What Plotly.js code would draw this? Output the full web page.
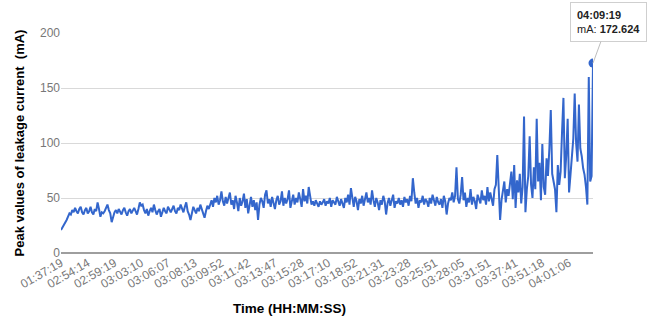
<!DOCTYPE html>
<html>
<head>
<meta charset="utf-8">
<script src="https://cdn.plot.ly/plotly-3.0.1.min.js"></script>
<style>
html,body{margin:0;padding:0;background:#fff;}
#chart{width:650px;height:317px;}
</style>
</head>
<body>
<div id="chart"></div>
<script>
// Tick labels (one every 19 samples)
const tickLabels = ["01:37:19","02:54:14","02:59:19","03:03:10","03:06:07","03:08:13","03:09:52",
  "03:11:42","03:13:47","03:15:28","03:17:10","03:18:52","03:21:31","03:23:28","03:25:51",
  "03:28:05","03:31:51","03:37:41","03:51:18","04:01:06"];
const labelStep = 19;

// Peak leakage current (mA)
const leakage = [
  21,23,25,27,30,33,36,35,39,37,41,38,36,40,42,37,35,39,41,36,
  38,42,37,35,40,38,46,40,33,37,36,38,41,44,39,36,28,33,37,39,
  36,40,38,35,39,41,37,34,38,40,36,39,41,38,35,40,46,43,44,39,
  36,40,34,38,41,37,44,39,35,38,40,33,37,41,38,36,42,39,37,40,
  43,38,36,41,39,44,40,37,42,46,38,35,30,37,42,39,36,41,38,44,
  40,35,32,38,43,40,45,48,42,50,46,52,44,48,56,47,43,51,45,49,
  55,44,48,40,52,46,38,50,43,47,54,41,49,36,45,51,42,48,39,46,
  30,44,50,47,41,53,57,45,49,42,51,46,40,48,52,44,47,56,43,50,
  45,49,57,41,48,53,44,50,46,55,49,42,58,47,52,45,60,51,44,47,
  43,48,45,42,47,44,46,49,43,47,45,50,42,48,46,44,51,47,43,49,
  45,41,50,46,53,44,59,48,42,51,47,39,49,45,52,43,48,55,46,50,
  44,57,48,42,50,46,39,48,44,52,47,35,45,50,43,48,53,41,47,45,
  50,44,48,42,51,46,49,43,52,47,68,55,45,50,41,48,46,52,44,49,
  47,42,50,45,53,48,43,51,46,44,49,41,52,47,35,45,50,48,55,46,
  52,78,49,45,53,69,48,55,42,50,46,58,44,51,47,40,53,49,45,57,
  48,52,44,60,47,55,50,43,58,62,89,52,30,48,56,65,46,58,52,61,
  74,49,80,41,66,55,72,45,60,124,37,58,70,106,62,50,78,58,122,65,
  82,48,99,60,53,86,70,95,130,72,65,58,37,80,62,74,110,141,68,89,
  122,55,71,90,104,145,100,83,135,95,88,77,71,60,44,160,65,70,172.624
];
const lastTime = "04:09:19";
const unitLabel = "mA";

const xIdx = leakage.map((_, i) => i);
const lastI = leakage.length - 1;

const traces = [
  {x: xIdx, y: leakage, type: 'scatter', mode: 'lines',
   line: {color: '#3366cc', width: 2}, hoverinfo: 'skip'},
  {x: [lastI], y: [leakage[lastI]], type: 'scatter', mode: 'markers',
   marker: {color: '#3366cc', size: 9}, hoverinfo: 'skip'}
];

const layout = {
  width: 650, height: 317,
  margin: {l: 61, r: 57, t: 33, b: 64},
  paper_bgcolor: '#fff', plot_bgcolor: '#fff',
  showlegend: false,
  font: {family: 'Liberation Sans, Arial, sans-serif'},
  xaxis: {
    range: [0, lastI],
    tickvals: tickLabels.map((_, k) => k * labelStep),
    ticktext: tickLabels,
    tickangle: -30,
    tickfont: {size: 12, color: '#777'},
    showgrid: false, zeroline: false, showline: false, ticks: ''
  },
  yaxis: {
    range: [0, 200],
    tickvals: [0, 50, 100, 150, 200],
    tickfont: {size: 12, color: '#777'},
    gridcolor: '#d9d9d9', gridwidth: 1,
    zeroline: true, zerolinecolor: '#9e9e9e', zerolinewidth: 2,
    showline: false, ticks: '',
    title: {text: 'Peak values of leakage current  (mA)', font: {size: 13, color: '#000', weight: 'bold'}, standoff: 12}
  },
  annotations: [
    {xref: 'paper', yref: 'paper', x: 0.43, y: -0.17, yanchor: 'top', xanchor: 'center',
     yshift: -9, showarrow: false,
     text: '<b>Time (HH:MM:SS)</b>', font: {size: 13.5, color: '#000'}},
    {x: lastI, y: leakage[lastI], xref: 'x', yref: 'y',
     text: '<b>' + lastTime + '</b><br>' + unitLabel + ': <b>' + leakage[lastI] + '</b>',
     align: 'left', showarrow: true, arrowhead: 0, arrowwidth: 1, arrowcolor: '#bdbdbd',
     ax: 15, ay: -41, bgcolor: '#fff', bordercolor: '#cfcfcf', borderwidth: 1, borderpad: 6,
     font: {size: 11, color: '#222'}}
  ]
};

Plotly.newPlot('chart', traces, layout, {staticPlot: true, displayModeBar: false});
</script>
</body>
</html>
